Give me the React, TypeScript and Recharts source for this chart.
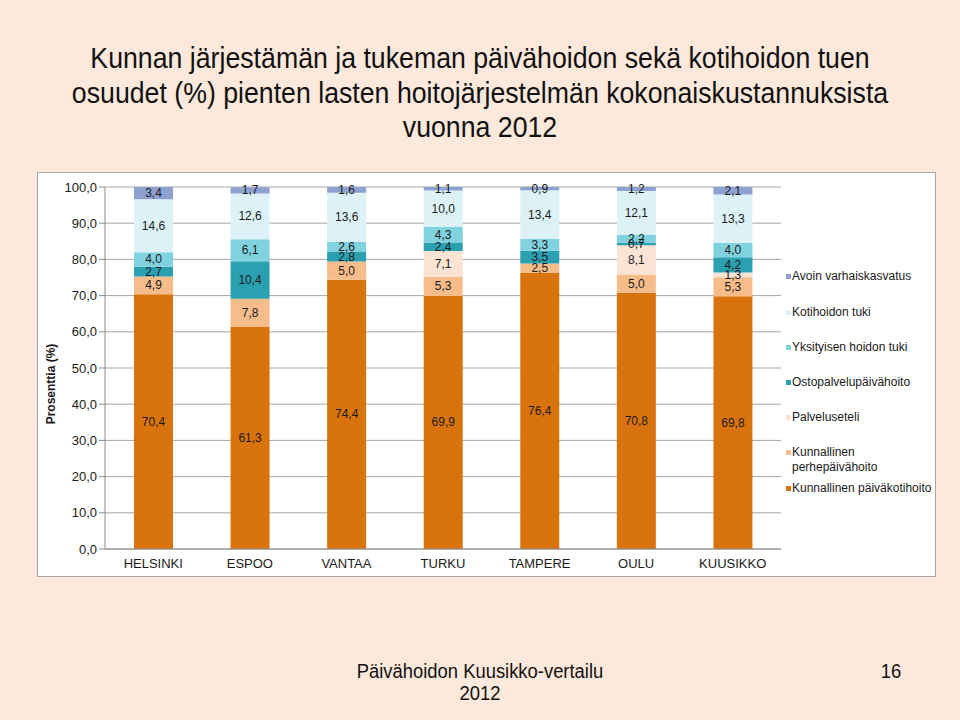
import { BarChart, Bar, XAxis, YAxis, CartesianGrid, LabelList } from 'recharts';

// Cities on the x axis
const categories = ['HELSINKI', 'ESPOO', 'VANTAA', 'TURKU', 'TAMPERE', 'OULU', 'KUUSIKKO'];

// Shares (%) per cost type, bottom of the stack first
const paivakoti = [70.4, 61.3, 74.4, 69.9, 76.4, 70.8, 69.8];
const perhepaivahoito = [4.9, 7.8, 5.0, 5.3, 2.5, 5.0, 5.3];
const palveluseteli = [0, 0, 0, 7.1, 0, 8.1, 1.3];
const ostopalvelu = [2.7, 10.4, 2.8, 2.4, 3.5, 0.7, 4.2];
const yksityinen = [4.0, 6.1, 2.6, 4.3, 3.3, 2.2, 4.0];
const kotihoito = [14.6, 12.6, 13.6, 10.0, 13.4, 12.1, 13.3];
const avoin = [3.4, 1.7, 1.6, 1.1, 0.9, 1.2, 2.1];

const yTicks = [0, 10, 20, 30, 40, 50, 60, 70, 80, 90, 100];

const data = categories.map((name, i) => ({
  name,
  paivakoti: paivakoti[i],
  perhepaivahoito: perhepaivahoito[i],
  palveluseteli: palveluseteli[i],
  ostopalvelu: ostopalvelu[i],
  yksityinen: yksityinen[i],
  kotihoito: kotihoito[i],
  avoin: avoin[i],
}));

const SERIES = [
  { key: 'paivakoti', name: 'Kunnallinen päiväkotihoito', color: '#d9730d' },
  { key: 'perhepaivahoito', name: 'Kunnallinen perhepäivähoito', color: '#f6bd8b' },
  { key: 'palveluseteli', name: 'Palveluseteli', color: '#fce4d5' },
  { key: 'ostopalvelu', name: 'Ostopalvelupäivähoito', color: '#2ba0b1' },
  { key: 'yksityinen', name: 'Yksityisen hoidon tuki', color: '#7fd2de' },
  { key: 'kotihoito', name: 'Kotihoidon tuki', color: '#dcf2f6' },
  { key: 'avoin', name: 'Avoin varhaiskasvatus', color: '#8ea2d2' },
];

const FONT = '"Liberation Sans", Arial, sans-serif';

const fmt = (v: number) => v.toFixed(1).replace('.', ',');

// value label in the middle of a segment, zero segments get none
const SegmentLabel = (props: any) => {
  const { x, y, width, height, value } = props;
  if (!value) return null;
  return (
    <text
      x={x + width / 2}
      y={y + height / 2}
      textAnchor="middle"
      dominantBaseline="central"
      fontSize={12}
      fontFamily={FONT}
      fill="#1a1a1a"
    >
      {fmt(value)}
    </text>
  );
};

// legend rows, top to bottom as in the reference (y relative to chart box)
const legendRows = [
  { i: 6, top: 103 },
  { i: 5, top: 139 },
  { i: 4, top: 174 },
  { i: 3, top: 209 },
  { i: 2, top: 244 },
  { i: 1, top: 279 },
  { i: 0, top: 315 },
];

const CustomLegend = () => (
  <div
    style={{
      position: 'absolute',
      left: 748,
      top: 0,
      width: 150,
      height: 330,
      fontFamily: FONT,
      fontSize: 12,
      color: '#1a1a1a',
    }}
  >
    {legendRows.map(({ i, top }) => {
      const s = SERIES[i];
      const twoLine = s.key === 'perhepaivahoito';
      return (
        <div key={s.key} style={{ position: 'absolute', left: 0, top: top - 7, width: 150 }}>
          <span style={{ position: 'absolute', left: 0, top: 5, width: 5, height: 5, background: s.color }} />
          <span style={{ position: 'absolute', left: 6, top: 0, lineHeight: '15px', whiteSpace: 'nowrap' }}>
            {twoLine ? (
              <>
                Kunnallinen
                <br />
                perhepäivähoito
              </>
            ) : (
              s.name
            )}
          </span>
        </div>
      );
    })}
  </div>
);

const YLabel = () => (
  <text
    x={13}
    y={211}
    transform="rotate(-90 13 211)"
    textAnchor="middle"
    dominantBaseline="central"
    fontSize={12}
    fontWeight="bold"
    fontFamily={FONT}
    fill="#1a1a1a"
  >
    Prosenttia (%)
  </text>
);

export default function App() {
  return (
    <div
      style={{
        position: 'absolute',
        left: 0,
        top: 0,
        width: 960,
        height: 720,
        background: '#fde9dc',
        overflow: 'hidden',
      }}
    >
      {/* Title */}
      <div
        style={{
          position: 'absolute',
          left: 0,
          top: 41,
          width: 960,
          textAlign: 'center',
          fontFamily: FONT,
          fontSize: 30,
          lineHeight: '34.5px',
          color: '#111',
          transform: 'scaleX(0.89)',
        }}
      >
        Kunnan järjestämän ja tukeman päivähoidon sekä kotihoidon tuen
        <br />
        osuudet (%) pienten lasten hoitojärjestelmän kokonaiskustannuksista
        <br />
        vuonna 2012
      </div>

      {/* Chart box */}
      <div
        style={{
          position: 'absolute',
          left: 37,
          top: 172,
          width: 899,
          height: 405,
          background: '#fff',
          border: '1px solid #a6a6a6',
          boxSizing: 'border-box',
        }}
      >
        <BarChart
          width={897}
          height={403}
          data={data}
          margin={{ top: 14, right: 154, bottom: 0, left: 0 }}
          barSize={39}
        >
          <CartesianGrid vertical={false} stroke="#a6a6a6" />
          <XAxis
            dataKey="name"
            height={27}
            axisLine={{ stroke: '#8c8c8c' }}
            tickLine={false}
            tick={{ fontSize: 13, fill: '#1a1a1a', fontFamily: FONT }}
            tickMargin={4}
          />
          <YAxis
            width={67}
            domain={[0, 100]}
            ticks={yTicks}
            interval={0}
            allowDataOverflow
            tickFormatter={fmt}
            axisLine={{ stroke: '#8c8c8c' }}
            tickLine={{ stroke: '#8c8c8c' }}
            tickSize={6}
            tick={{ fontSize: 13, fill: '#1a1a1a', fontFamily: FONT }}
            label={<YLabel />}
          />
          {SERIES.map((s) => (
            <Bar key={s.key} dataKey={s.key} name={s.name} stackId="a" fill={s.color} isAnimationActive={false}>
              <LabelList dataKey={s.key} content={<SegmentLabel />} />
            </Bar>
          ))}
        </BarChart>
        <CustomLegend />
      </div>

      {/* Footer */}
      <div
        style={{
          position: 'absolute',
          left: 330,
          top: 660,
          width: 300,
          textAlign: 'center',
          fontFamily: FONT,
          fontSize: 20,
          lineHeight: '22px',
          color: '#111',
          transform: 'scaleX(0.92)',
        }}
      >
        Päivähoidon Kuusikko-vertailu
        <br />
        2012
      </div>
      <div
        style={{
          position: 'absolute',
          left: 871,
          top: 660,
          width: 40,
          textAlign: 'center',
          fontFamily: FONT,
          fontSize: 20,
          lineHeight: '22px',
          color: '#111',
          transform: 'scaleX(0.92)',
        }}
      >
        16
      </div>
    </div>
  );
}
